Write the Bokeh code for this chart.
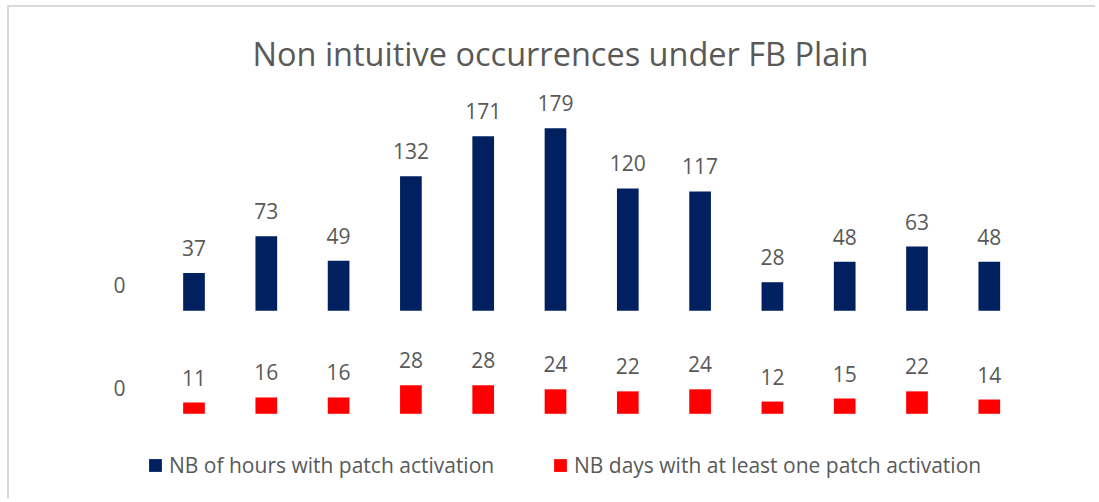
from bokeh.plotting import figure
from bokeh.models import ColumnDataSource, Range1d, FixedTicker, Legend, LegendItem
from bokeh.core.properties import value
from bokeh.embed import file_html
from bokeh.resources import INLINE

# ---- data ----
periods = list(range(1, 13))
hours = [37, 73, 49, 132, 171, 179, 120, 117, 28, 48, 63, 48]
days = [11, 16, 16, 28, 28, 24, 22, 24, 12, 15, 22, 14]
series_names = ["NB of hours with patch activation", "NB days with at least one patch activation"]
axis_tick_labels = ["0", "0"]
title_text = "Non intuitive occurrences under FB Plain"

# ---- layout constants ----
BLUE_BASE = 101          # vertical offset (data units) of the upper panel of bars
PX_PER_UNIT = 1.02
TEXT = "#595959"
FONT = "Open Sans"
W, H = 1088, 493
LEFT = 130
TOP = 75

blue_src = ColumnDataSource(dict(
    x=periods, top=[v + BLUE_BASE for v in hours], label=[str(v) for v in hours]))
red_src = ColumnDataSource(dict(
    x=periods, top=days, label=[str(v) for v in days]))

unit_px = 72.3
x_start = 1 - (184.5 - LEFT) / unit_px
x_end = x_start + (W - LEFT) / unit_px
y_start = -(H - 406.3) / PX_PER_UNIT
y_end = y_start + (H - TOP) / PX_PER_UNIT

p = figure(width=W, height=H, output_backend="svg", toolbar_location=None,
           x_range=Range1d(x_start, x_end), y_range=Range1d(y_start, y_end),
           x_axis_location=None,
           min_border_left=LEFT, min_border_right=0, min_border_top=TOP, min_border_bottom=0,
           title=title_text)
p.margin = (5, 0, 0, 7)
p.styles = {"border-top": "2px solid #d9d9d9", "border-left": "2px solid #d9d9d9"}
p.grid.visible = False
p.outline_line_color = None

p.title.text_font = FONT
p.title.text_font_size = "32.5px"
p.title.text_font_style = "normal"
p.title.text_color = TEXT
p.title.align = "left"
p.title.offset = 113
p.title.standoff = 14

r_blue = p.vbar(x="x", top="top", bottom=BLUE_BASE, width=0.3, source=blue_src,
                fill_color="#002060", line_color=None)
r_red = p.vbar(x="x", top="top", bottom=0, width=0.3, source=red_src,
               fill_color="#FF0000", line_color=None)

for src in (blue_src, red_src):
    p.text(x="x", y="top", text="label", source=src, text_align="center",
           text_baseline="alphabetic", y_offset=-25, text_font=value(FONT),
           text_font_size="21px", text_color=TEXT)

ticks = [25, BLUE_BASE + 25]
p.yaxis.ticker = FixedTicker(ticks=ticks)
p.yaxis.major_label_overrides = {t: lab for t, lab in zip(ticks, axis_tick_labels)}
p.yaxis.axis_line_color = None
p.yaxis.major_tick_line_color = None
p.yaxis.minor_tick_line_color = None
p.yaxis.major_label_standoff = 8
p.yaxis.major_label_text_font = FONT
p.yaxis.major_label_text_font_size = "21px"
p.yaxis.major_label_text_color = TEXT

def make_legend(name, renderer, loc):
    return Legend(items=[LegendItem(label=name, renderers=[renderer])], location=loc,
                  padding=0, margin=0, border_line_color=None, background_fill_alpha=0,
                  glyph_width=16, glyph_height=16, label_standoff=6,
                  label_text_font=FONT, label_text_font_size="21px", label_text_color=TEXT)

p.add_layout(make_legend(series_names[0], r_blue, (8, 21)))
p.add_layout(make_legend(series_names[1], r_red, (413, 21)))

open("out.html", "w").write(file_html(p, INLINE))
